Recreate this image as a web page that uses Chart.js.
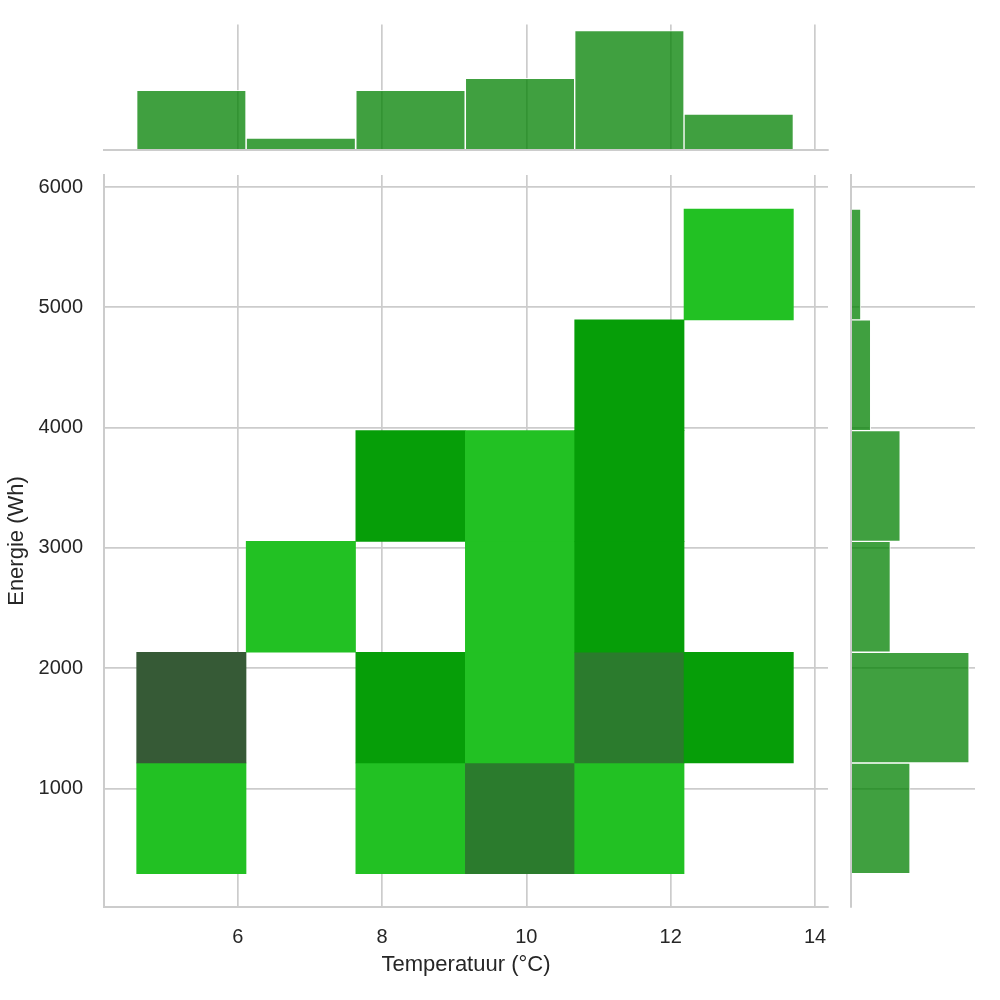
<!DOCTYPE html>
<html><head><meta charset="utf-8">
<script src="https://cdn.jsdelivr.net/npm/chart.js@4/dist/chart.umd.min.js"></script>
<style>
html,body{margin:0;padding:0;background:#fff;}
#wrap{position:relative;width:1000px;height:1000px;overflow:hidden;}
canvas{position:absolute;left:0;top:0;}
</style></head><body>
<div id="wrap">
<canvas id="main" width="1000" height="1000"></canvas>
<canvas id="top" width="1000" height="1000"></canvas>
<canvas id="right" width="1000" height="1000"></canvas>
</div>
<script>
// ---- data ----
const temperatureEdges = [4.60, 6.115, 7.635, 9.154, 10.670, 12.185, 13.70];
const energyEdges = [290, 1211, 2132, 3053, 3974, 4895, 5816];
// counts per temperature bin (rows) and energy bin (columns)
const cellCounts = [
  [1, 4, 0, 0, 0, 0],
  [0, 0, 1, 0, 0, 0],
  [1, 2, 0, 2, 0, 0],
  [3, 1, 1, 1, 0, 0],
  [1, 3, 2, 2, 2, 0],
  [0, 2, 0, 0, 0, 1]
];
const temperatureCounts = [5, 1, 5, 6, 10, 3];
const energyCounts = [6, 12, 4, 5, 2, 1];
const xTickValues = [6, 8, 10, 12, 14];
const yTickValues = [1000, 2000, 3000, 4000, 5000, 6000];
const xLabel = 'Temperatuur (°C)';
const yLabel = 'Energie (Wh)';

// ---- styling ----
const palette = {1: '#22c123', 2: '#069e08', 3: '#2b7b2d', 4: '#365a36'};
const margColor = 'rgba(0,128,0,0.75)';
const gridColor = '#cccccc';
const textColor = '#262626';
const FONT = '"Liberation Sans", Arial, Helvetica, sans-serif';
Chart.defaults.font.family = FONT;
const xMin = 4.147, xMax = 14.18, yMin = 13.5, yMax = 6100;

const centers = e => e.slice(0, -1).map((v, i) => (v + e[i + 1]) / 2);
const tCenters = centers(temperatureEdges);
const eCenters = centers(energyEdges);

const cells = [];
cellCounts.forEach((row, i) => row.forEach((c, j) => {
  if (c > 0) cells.push({x: tCenters[i], y: [energyEdges[j], energyEdges[j + 1]], c: c});
}));

const setTicks = vals => s => { s.ticks = vals.map(v => ({value: v})); };
const common = {responsive: false, animation: false, devicePixelRatio: 1,
  plugins: {legend: {display: false}, tooltip: {enabled: false}}};

// ---- main heatmap ----
new Chart(document.getElementById('main'), {
  type: 'bar',
  data: {datasets: [{
    data: cells,
    backgroundColor: ctx => (ctx.raw && palette[ctx.raw.c]) || palette[1],
    borderWidth: 0, barPercentage: 1, categoryPercentage: 1
  }]},
  options: Object.assign({}, common, {
    layout: {padding: {left: 0, top: 175, right: 172, bottom: 0}},
    scales: {
      x: {type: 'linear', min: xMin, max: xMax, offset: false,
        afterBuildTicks: setTicks(xTickValues), afterFit: s => { s.height = 93; },
        grid: {offset: false, color: gridColor, lineWidth: 1.7, drawTicks: false},
        border: {color: gridColor, width: 2, z: 1},
        ticks: {padding: 18, color: textColor, font: {size: 20}, callback: v => String(v)},
        title: {display: true, text: xLabel, color: textColor, font: {size: 22}, padding: {top: 0, bottom: 22}}},
      y: {type: 'linear', min: yMin, max: yMax,
        afterBuildTicks: setTicks(yTickValues), afterFit: s => { s.width = 104; },
        grid: {color: gridColor, lineWidth: 1.7, drawTicks: false},
        border: {color: gridColor, width: 2, z: 1},
        ticks: {padding: 21, color: textColor, font: {size: 20}, callback: v => String(v)},
        title: {display: true, text: yLabel, color: textColor, font: {size: 22}, padding: {top: 4, bottom: 0}}}
    }
  })
});

// ---- top marginal ----
new Chart(document.getElementById('top'), {
  type: 'bar',
  data: {datasets: [{
    data: temperatureCounts.map((c, i) => ({x: tCenters[i], y: c})),
    backgroundColor: margColor, borderColor: 'rgba(255,255,255,0.85)', borderWidth: 1,
    barPercentage: 1, categoryPercentage: 1
  }]},
  options: Object.assign({}, common, {
    layout: {padding: {left: 104, top: 24.5, right: 172, bottom: 850}},
    scales: {
      x: {type: 'linear', min: xMin, max: xMax, offset: false,
        afterBuildTicks: setTicks(xTickValues), afterFit: s => { s.height = 0; },
        grid: {offset: false, color: gridColor, lineWidth: 1.7, drawTicks: false},
        border: {color: gridColor, width: 2, z: 1},
        ticks: {display: false}},
      y: {type: 'linear', min: 0, max: 10.5, display: false}
    }
  })
});

// ---- right marginal ----
new Chart(document.getElementById('right'), {
  type: 'bar',
  data: {datasets: [{
    data: energyCounts.map((c, i) => ({y: eCenters[i], x: c})),
    backgroundColor: margColor, borderColor: 'rgba(255,255,255,0.85)', borderWidth: 1,
    barPercentage: 1, categoryPercentage: 1
  }]},
  options: Object.assign({}, common, {
    indexAxis: 'y',
    layout: {padding: {left: 851, top: 175, right: 25, bottom: 93}},
    scales: {
      y: {type: 'linear', min: yMin, max: yMax, offset: false, position: 'left',
        afterBuildTicks: setTicks(yTickValues), afterFit: s => { s.width = 0; },
        grid: {offset: false, color: gridColor, lineWidth: 1.7, drawTicks: false},
        border: {color: gridColor, width: 2, z: 1},
        ticks: {display: false}},
      x: {type: 'linear', min: 0, max: 12.6, display: false}
    }
  })
});
</script>
</body></html>
